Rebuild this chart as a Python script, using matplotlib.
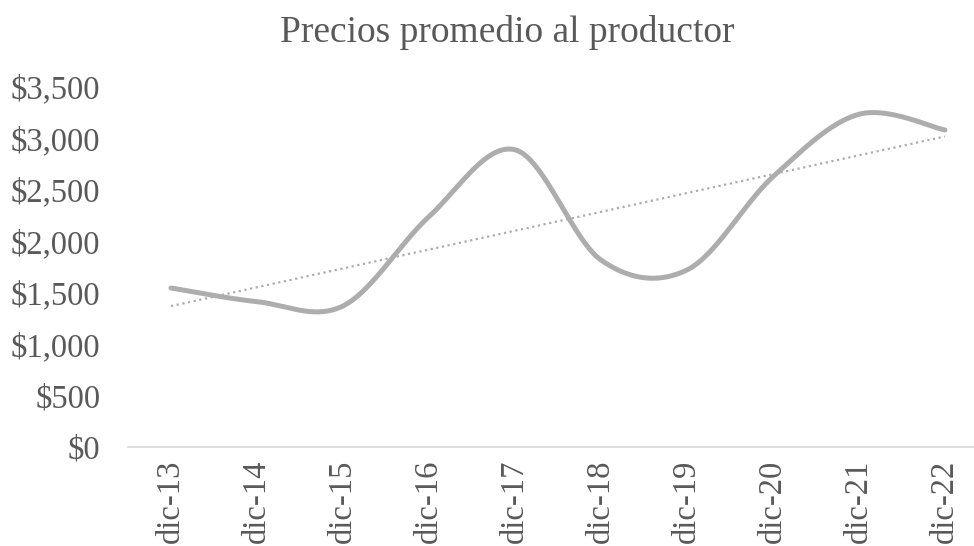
import matplotlib

matplotlib.use("Agg")
import matplotlib.pyplot as plt
import numpy as np

# valores
categorias = ["dic-13", "dic-14", "dic-15", "dic-16", "dic-17",
              "dic-18", "dic-19", "dic-20", "dic-21", "dic-22"]
precios = [1546, 1413, 1371, 2240, 2890, 1818, 1721, 2628, 3235, 3082]
y_ticks = [0, 500, 1000, 1500, 2000, 2500, 3000, 3500]

GRIS_TEXTO = "#595959"
GRIS_LINEA = "#ADADAD"


def suavizar(x, y, n=40):
    """Curva tipo Excel (Catmull-Rom como Bezier cúbica)."""
    x = np.asarray(x, float)
    y = np.asarray(y, float)
    px = np.concatenate([[x[0]], x, [x[-1]]])
    py = np.concatenate([[y[0]], y, [y[-1]]])
    xs, ys = [], []
    t = np.linspace(0, 1, n)
    for i in range(1, len(px) - 2):
        p0 = np.array([px[i], py[i]])
        p3 = np.array([px[i + 1], py[i + 1]])
        c1 = p0 + (np.array([px[i + 1], py[i + 1]]) - np.array([px[i - 1], py[i - 1]])) / 6
        c2 = p3 - (np.array([px[i + 2], py[i + 2]]) - np.array([px[i], py[i]])) / 6
        b = ((1 - t) ** 3)[:, None] * p0 + (3 * (1 - t) ** 2 * t)[:, None] * c1 \
            + (3 * (1 - t) * t ** 2)[:, None] * c2 + (t ** 3)[:, None] * p3
        xs.append(b[:, 0])
        ys.append(b[:, 1])
    return np.concatenate(xs), np.concatenate(ys)


plt.rcParams["font.family"] = ["Liberation Serif", "DejaVu Serif"]

fig = plt.figure(figsize=(9.74, 5.46), dpi=100)
ax = fig.add_axes([128 / 974, 99 / 546, 860 / 974, 360 / 546])

x = np.arange(len(categorias))
sx, sy = suavizar(x, precios)
ax.plot(sx, sy, color=GRIS_LINEA, lw=3.6, solid_capstyle="round", zorder=3)

# línea de tendencia lineal
m, b = np.polyfit(x, precios, 1)
ax.plot([x[0], x[-1]], [m * x[0] + b, m * x[-1] + b], color=GRIS_LINEA,
        lw=1.6, ls=(0, (1, 1.6)), zorder=2)

ax.set_xlim(-0.5, 9.5)
ax.set_ylim(0, 3500)
ax.set_xticks(x)
ax.set_xticklabels(categorias, rotation=90)
ax.set_yticks(y_ticks)
ax.set_yticklabels([f"${v:,}" for v in y_ticks])
ax.tick_params(axis="both", length=0, labelsize=23.5, colors=GRIS_TEXTO)
ax.tick_params(axis="y", pad=20)
ax.tick_params(axis="x", pad=9)

for lado in ["top", "right", "left"]:
    ax.spines[lado].set_visible(False)
ax.spines["bottom"].set_color("#D9D9D9")
ax.spines["bottom"].set_linewidth(1.2)

fig.text(507 / 974, 1 - 33 / 546, "Precios promedio al productor",
         ha="center", va="center", fontsize=27, color=GRIS_TEXTO)

fig.savefig("out.png", dpi=100)
